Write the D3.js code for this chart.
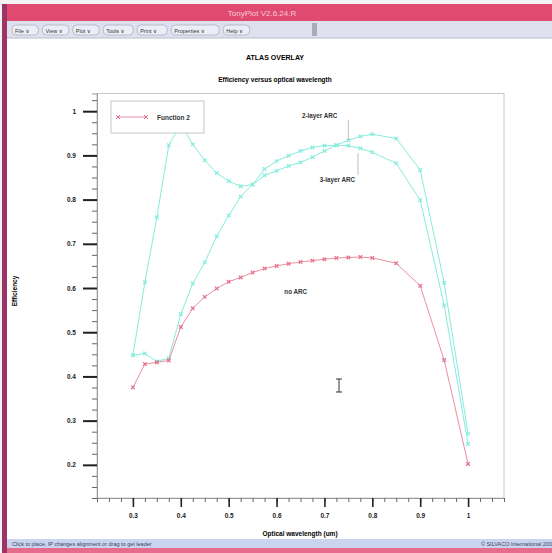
<!DOCTYPE html>
<meta charset="utf-8">
<style>
body { margin: 0; background: #f3f3f3; }
svg { display: block; font-family: "Liberation Sans", "DejaVu Sans", sans-serif; }
.axis path { stroke: #999; }
.axis--y .major line { stroke: #222; stroke-width: 2; }
.axis--y .minor line { stroke: #666; }
.axis--x .major line { stroke: #222; stroke-width: 1.6; }
.axis--x .minor line { stroke: #666; }
.axis text { font-size: 6.5px; font-weight: bold; fill: #222; }
</style>
<svg width="552" height="553"></svg>
<script src="https://d3js.org/d3.v7.min.js"></script>
<script>

var wavelength = [0.3, 0.325, 0.35, 0.375, 0.4, 0.425, 0.45, 0.475, 0.5, 0.525, 0.55, 0.575, 0.6,
                  0.625, 0.65, 0.675, 0.7, 0.725, 0.75, 0.775, 0.8, 0.85, 0.9, 0.95, 1.0];
var noArc = [0.375, 0.428, 0.432, 0.436, 0.512, 0.554, 0.58, 0.599, 0.614, 0.624, 0.635, 0.644, 0.65,
             0.655, 0.659, 0.662, 0.665, 0.668, 0.669, 0.67, 0.668, 0.656, 0.605, 0.437, 0.202];
var threeLayer = [0.448, 0.613, 0.76, 0.923, 0.97, 0.925, 0.889, 0.86, 0.842, 0.83, 0.834, 0.869, 0.887,
                  0.899, 0.91, 0.918, 0.922, 0.923, 0.922, 0.916, 0.907, 0.882, 0.799, 0.561, 0.247];
var twoLayer = [0.448, 0.452, 0.434, 0.441, 0.541, 0.61, 0.658, 0.717, 0.764, 0.807, 0.834, 0.855, 0.865,
                0.876, 0.884, 0.896, 0.91, 0.923, 0.934, 0.943, 0.948, 0.938, 0.867, 0.612, 0.27];

var xTicks = [0.3, 0.4, 0.5, 0.6, 0.7, 0.8, 0.9, 1];
var yTicks = [0.2, 0.3, 0.4, 0.5, 0.6, 0.7, 0.8, 0.9, 1];
var menuItems = ["File", "View", "Plot", "Tools", "Print", "Properties", "Help"];

var pink = "#e5708a",
    cyan = "#86ecdd";

var svg = d3.select("svg");

// ---- window chrome ----
svg.append("rect").attr("x", 6).attr("y", 4).attr("width", 546).attr("height", 549).attr("fill", "#fff");
svg.append("rect").attr("x", 6).attr("y", 4).attr("width", 546).attr("height", 17).attr("fill", "#e04a70");
svg.append("text").attr("x", 262).attr("y", 16).attr("text-anchor", "middle")
    .attr("font-size", 8).attr("fill", "#f6c9d6").text("TonyPlot V2.6.24.R");
svg.append("rect").attr("x", 6).attr("y", 21).attr("width", 546).attr("height", 17).attr("fill", "#dfe1ef");
svg.append("line").attr("x1", 6).attr("x2", 552).attr("y1", 38).attr("y2", 38).attr("stroke", "#b9bccc");
svg.append("rect").attr("x", 6).attr("y", 539).attr("width", 546).attr("height", 9).attr("fill", "#cbd4ef");
svg.append("rect").attr("x", 6).attr("y", 548).attr("width", 546).attr("height", 5).attr("fill", "#e66c8e");
svg.append("rect").attr("x", 2).attr("y", 4).attr("width", 5).attr("height", 549).attr("fill", "#9b3467");
svg.append("rect").attr("x", 312).attr("y", 23).attr("width", 5).attr("height", 13).attr("fill", "#a9abb8");

var mx = 12;
menuItems.forEach(function(m) {
  var w = m.length * 3.6 + 12;
  svg.append("rect").attr("x", mx).attr("y", 25).attr("width", w).attr("height", 10).attr("rx", 4)
      .attr("fill", "#eceef7").attr("stroke", "#9a9db0").attr("stroke-width", 0.6);
  svg.append("text").attr("x", mx + 3).attr("y", 32.5).attr("font-size", 5.5).attr("fill", "#333")
      .text(m + " \u2228");
  mx += w + 4;
});

svg.append("text").attr("x", 12).attr("y", 546).attr("font-size", 5.5).attr("fill", "#3a3f60")
    .text("Click to place, IP changes alignment or drag to get leader");
svg.append("text").attr("x", 552).attr("y", 546).attr("text-anchor", "end").attr("font-size", 5.5)
    .attr("fill", "#3a3f60").text("\u00a9 SILVACO International 200");

// ---- titles ----
svg.append("text").attr("x", 275).attr("y", 60).attr("text-anchor", "middle")
    .attr("font-size", 7).attr("font-weight", "bold").text("ATLAS OVERLAY");
svg.append("text").attr("x", 275).attr("y", 82).attr("text-anchor", "middle")
    .attr("font-size", 6.5).attr("font-weight", "bold").text("Efficiency versus optical wavelength");

// ---- plot ----
var x = d3.scaleLinear().domain([0.225, 1.075]).range([97, 504]),
    y = d3.scaleLinear().domain([0.125, 1.04]).range([498, 93.5]);

svg.append("rect").attr("x", 97).attr("y", 93.5).attr("width", 407).attr("height", 404.5)
    .attr("fill", "none").attr("stroke", "#c8c8cc");

var fmt = d3.format("~g");

var yAxis = svg.append("g").attr("class", "axis axis--y").attr("transform", "translate(97,0)");
yAxis.append("g").attr("class", "minor")
    .call(d3.axisLeft(y).tickValues(d3.range(0.125, 1.04, 0.025)).tickSize(5).tickFormat(""));
yAxis.append("g").attr("class", "major")
    .call(d3.axisLeft(y).tickValues(yTicks).tickSize(14).tickPadding(7).tickFormat(fmt));
yAxis.selectAll(".major path").remove();

var xAxis = svg.append("g").attr("class", "axis axis--x").attr("transform", "translate(0,498)");
xAxis.append("g").attr("class", "minor")
    .call(d3.axisBottom(x).tickValues(d3.range(0.225, 1.08, 0.025)).tickSize(4).tickFormat(""));
xAxis.append("g").attr("class", "major")
    .call(d3.axisBottom(x).tickValues(xTicks).tickSize(9).tickPadding(6).tickFormat(fmt));
xAxis.selectAll(".major path").remove();

svg.append("text").attr("x", 300).attr("y", 536).attr("text-anchor", "middle")
    .attr("font-size", 6.5).attr("font-weight", "bold").text("Optical wavelength (um)");
svg.append("text").attr("transform", "translate(17,291) rotate(-90)").attr("text-anchor", "middle")
    .attr("font-size", 6.5).attr("font-weight", "bold").text("Efficiency");

var line = d3.line()
    .x(function(d) { return x(d[0]); })
    .y(function(d) { return y(d[1]); });

function drawSeries(values, color, width) {
  var pts = wavelength.map(function(w, i) { return [w, values[i]]; });
  var g = svg.append("g");
  g.append("path").datum(pts).attr("d", line)
      .attr("fill", "none").attr("stroke", color).attr("stroke-width", width);
  g.selectAll("path.mk").data(pts).enter().append("path").attr("class", "mk")
      .attr("d", function(d) {
        var cx = x(d[0]), cy = y(d[1]), s = 1.8;
        return "M" + (cx - s) + "," + (cy - s) + "L" + (cx + s) + "," + (cy + s) +
               "M" + (cx - s) + "," + (cy + s) + "L" + (cx + s) + "," + (cy - s);
      })
      .attr("stroke", color).attr("stroke-width", 1.2);
}

drawSeries(twoLayer, cyan, 1);
drawSeries(threeLayer, cyan, 1);
drawSeries(noArc, pink, 0.8);

// legend (opaque, hides the peak of the 3-layer curve like the original)
var leg = svg.append("g");
leg.append("rect").attr("x", 111).attr("y", 101).attr("width", 93).attr("height", 32)
    .attr("fill", "#fff").attr("stroke", "#b8b8c0").attr("stroke-width", 0.8);
leg.append("line").attr("x1", 118).attr("x2", 146).attr("y1", 117).attr("y2", 117)
    .attr("stroke", pink).attr("stroke-width", 0.8);
[118, 146].forEach(function(lx) {
  leg.append("path").attr("d", "M" + (lx - 2) + ",115L" + (lx + 2) + ",119M" + (lx - 2) + ",119L" + (lx + 2) + ",115")
      .attr("stroke", pink).attr("stroke-width", 1);
});
leg.append("text").attr("x", 157).attr("y", 119.5).attr("font-size", 6.5).attr("font-weight", "bold")
    .attr("fill", "#333").text("Function 2");

// curve labels with leaders
function label(txt, lx, ly, tx, ty) {
  svg.append("text").attr("x", x(lx)).attr("y", y(ly)).attr("text-anchor", "middle")
      .attr("font-size", 6.3).attr("font-weight", "bold").attr("fill", "#333").text(txt);
  if (tx != null) {
    svg.append("line").attr("x1", x(tx)).attr("x2", x(tx))
        .attr("y1", y(ly) + (ty < ly ? 2 : -7)).attr("y2", y(ty))
        .attr("stroke", "#999").attr("stroke-width", 0.6);
  }
}
label("2-layer ARC", 0.69, 0.985, 0.75, 0.935);
label("3-layer ARC", 0.727, 0.84, 0.77, 0.905);
label("no ARC", 0.64, 0.587, null, null);

// text cursor left on the screen
var cur = svg.append("g").attr("stroke", "#333").attr("stroke-width", 1).attr("fill", "none");
cur.append("path").attr("d", "M336,379H342M336,392H342M339,379V392");

</script>
